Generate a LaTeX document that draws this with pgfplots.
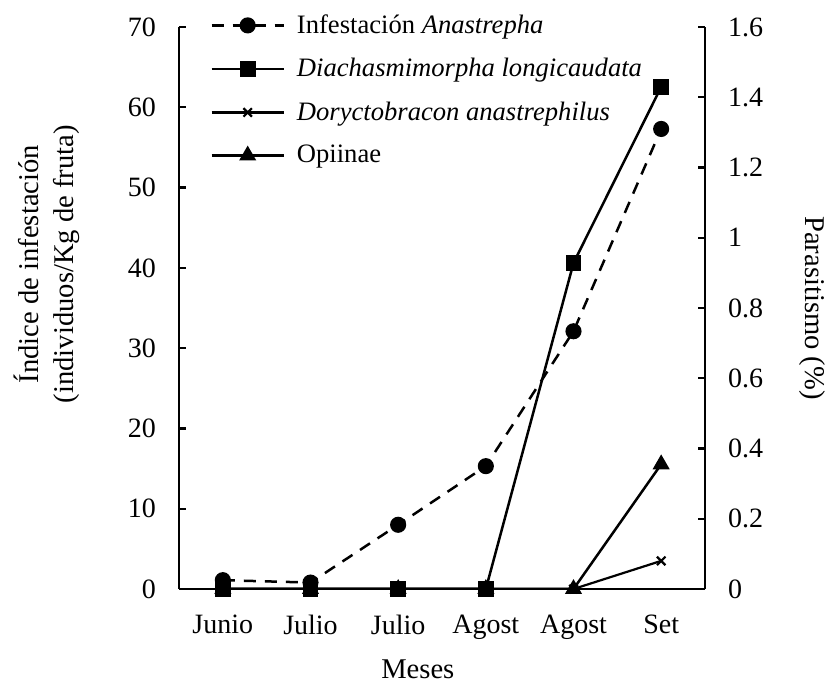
\documentclass[border=0pt]{standalone}
\usepackage{pgfplots}
\pgfplotsset{compat=1.18}
\usepackage{fontspec}
\setmainfont{Liberation Serif}
\begin{document}
\begin{tikzpicture}
\pgfplotsset{
  common/.style={
    scale only axis, width=263pt, height=281pt,
    xmin=-0.5, xmax=5.5, xtick={0,1,2,3,4,5},
    ymin=0,
    tick align=inside, major tick length=3.5pt,
    axis line style={line width=1.2pt},
    every tick/.style={line width=1.2pt, black},
    xtick style={draw=none},
    /pgf/number format/assume math mode=true,
    tick label style={font=\fontsize{14}{16}\selectfont},
    label style={font=\fontsize{14.3}{17.5}\selectfont},
    legend image code/.code={\draw[mark repeat=2,mark phase=2,##1] plot coordinates {(0pt,0pt) (18pt,0pt) (36pt,0pt)};},
  }
}
\begin{axis}[common,
  axis x line*=bottom, axis y line*=left,
  ymax=70, ytick={0,10,20,30,40,50,60,70},
  yticklabels={0,10,20,30,40,50,60,70},
  yticklabel style={xshift=-8pt},
  xticklabels={Junio,Julio,Julio,Agost,Agost,Set},
  xticklabel style={yshift=-9.5pt},
  xlabel={Meses},
  xlabel style={at={(axis description cs:0.454,-0.142)}, anchor=center},
  ylabel={Índice de infestación\\(individuos/Kg de fruta)},
  ylabel style={at={(axis description cs:-0.251,0.578)}, anchor=center, align=center},
]
\addplot[black, line width=1.25pt, dash pattern=on 6pt off 4.5pt, mark=*, mark size=3.4pt, mark options={solid}]
  coordinates {(0,1.1) (1,0.8) (2,8.0) (3,15.3) (4,32.1) (5,57.3)};
\end{axis}
\begin{axis}[common,
  axis y line*=right, axis x line=none,
  ymax=1.6, ytick={0,0.2,0.4,0.6,0.8,1,1.2,1.4,1.6},
  yticklabels={0,0.2,0.4,0.6,0.8,1,1.2,1.4,1.6},
  yticklabel style={xshift=8pt},
  ylabel={Parasitismo (\%)},
  ylabel style={at={(axis description cs:1.205,0.5)}, anchor=center, rotate=180},
  legend cell align=left,
  legend style={draw=none, fill=none, at={(axis description cs:0.059,1.03)}, anchor=north west,
    font=\fontsize{13.3}{16}\selectfont, row sep=7pt, inner sep=0pt,
    /tikz/every odd column/.append style={column sep=4pt}},
]
\addlegendimage{black, line width=1.25pt, dash pattern=on 6pt off 4.5pt, mark=*, mark size=3.4pt, mark options={solid}}
\addlegendentry{Infestación \textit{Anastrepha}}
\addplot[black, line width=1.25pt, mark=square*, mark size=3.3pt]
  coordinates {(0,0) (1,0) (2,0) (3,0) (4,0.928) (5,1.429)};
\addlegendentry{\textit{Diachasmimorpha longicaudata}}
\addplot[black, line width=1.1pt, mark=x, mark size=3pt]
  coordinates {(0,0) (1,0) (2,0) (3,0) (4,0) (5,0.08)};
\addlegendentry{\textit{Doryctobracon anastrephilus}}
\addplot[black, line width=1.25pt, mark=triangle*, mark size=3.7pt]
  coordinates {(0,0) (1,0) (2,0) (3,0) (4,0) (5,0.355)};
\addlegendentry{Opiinae}
\end{axis}
\pgfresetboundingbox
\path (-89.5pt,-47pt) rectangle (324.5pt,294.5pt);
\end{tikzpicture}
\end{document}
